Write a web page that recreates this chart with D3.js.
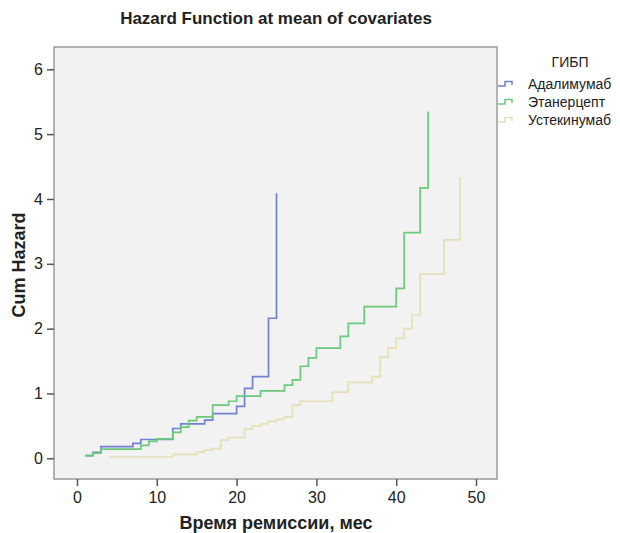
<!DOCTYPE html>
<html>
<head>
<meta charset="utf-8">
<script src="https://cdn.jsdelivr.net/npm/d3@7"></script>
<style>
  body { margin: 0; background: #fff; }
  text { font-family: "Liberation Sans", Arial, sans-serif; fill: #222; }
</style>
</head>
<body>
<svg id="chart" width="620" height="533"></svg>
<script>
// group names (legend)
var groups = ["Адалимумаб", "Этанерцепт", "Устекинумаб"];
var colors = ["#6f82d2", "#6cc97c", "#e4e0b6"];

// time of each step (months) and cumulative hazard after it
var adaTime = [1, 2, 3, 7, 8, 12, 13, 16, 17, 20, 21, 22, 24, 25];
var adaHaz  = [0.04, 0.09, 0.18, 0.23, 0.29, 0.46, 0.53, 0.59, 0.69, 0.80, 1.08, 1.26, 2.16, 4.09];

var etaTime = [1, 2, 3, 8, 9, 10, 12, 13, 14, 15, 17, 19, 20, 23, 26, 27, 28, 29, 30, 33, 34, 36, 40, 41, 43, 44];
var etaHaz  = [0.04, 0.08, 0.14, 0.20, 0.26, 0.30, 0.40, 0.48, 0.58, 0.64, 0.82, 0.88, 0.96, 1.04, 1.13, 1.21, 1.42, 1.55, 1.70, 1.88, 2.08, 2.34, 2.62, 3.48, 4.17, 5.35];

var ustTime = [4, 12, 15, 16, 17, 18, 19, 21, 22, 23, 24, 25, 26, 27, 28, 32, 34, 37, 38, 39, 40, 41, 42, 43, 46, 48];
var ustHaz  = [0.02, 0.06, 0.10, 0.13, 0.15, 0.28, 0.32, 0.45, 0.50, 0.53, 0.57, 0.60, 0.64, 0.82, 0.88, 1.02, 1.17, 1.26, 1.56, 1.70, 1.85, 2.00, 2.21, 2.84, 3.37, 4.34];

var xTicks = [0, 10, 20, 30, 40, 50];
var yTicks = [0, 1, 2, 3, 4, 5, 6];

var series = [
  {name: groups[0], t: adaTime, h: adaHaz},
  {name: groups[1], t: etaTime, h: etaHaz},
  {name: groups[2], t: ustTime, h: ustHaz}
];

var svg = d3.select("#chart");

var box = {left: 54, top: 47, right: 497, bottom: 479};

var x = d3.scaleLinear().domain([0, 50]).range([77, 476]);
var y = d3.scaleLinear().domain([0, 6]).range([458.3, 69.3]);

// plot background
svg.append("rect")
  .attr("x", box.left).attr("y", box.top)
  .attr("width", box.right - box.left).attr("height", box.bottom - box.top)
  .attr("fill", "#f2f2f2")
  .attr("stroke", "#9a9a9a")
  .attr("stroke-width", 1.5);

// axes
var xAxis = svg.append("g")
  .attr("transform", "translate(0," + box.bottom + ")")
  .call(d3.axisBottom(x).tickValues(xTicks).tickFormat(d3.format("d")).tickSize(7).tickPadding(6));
var yAxis = svg.append("g")
  .attr("transform", "translate(" + box.left + ",0)")
  .call(d3.axisLeft(y).tickValues(yTicks).tickFormat(d3.format("d")).tickSize(7).tickPadding(4));

[xAxis, yAxis].forEach(function(a){
  a.select(".domain").remove();
  a.selectAll("line").attr("stroke", "#555").attr("stroke-width", 1.5);
  a.selectAll("text").attr("font-size", 16).attr("fill", "#333")
    .style("font-family", "Liberation Sans, Arial, sans-serif");
});

// step curves
var line = d3.line()
  .x(function(d){ return x(d[0]); })
  .y(function(d){ return y(d[1]); })
  .curve(d3.curveStepAfter);

svg.append("g").selectAll("path")
  .data(series)
  .enter()
  .append("path")
  .attr("d", function(s){ return line(s.t.map(function(t, i){ return [t, s.h[i]]; })); })
  .attr("fill", "none")
  .attr("stroke", function(d, i){ return colors[i]; })
  .attr("stroke-width", 1.7);

// titles
svg.append("text")
  .attr("x", 276).attr("y", 24)
  .attr("text-anchor", "middle")
  .attr("font-size", 17).attr("font-weight", "bold")
  .text("Hazard Function at mean of covariates");

svg.append("text")
  .attr("x", 276).attr("y", 529)
  .attr("text-anchor", "middle")
  .attr("font-size", 18).attr("font-weight", "bold")
  .text("Время ремиссии, мес");

svg.append("text")
  .attr("transform", "translate(25,265) rotate(-90)")
  .attr("text-anchor", "middle")
  .attr("font-size", 18).attr("font-weight", "bold")
  .text("Cum Hazard");

// legend
var legend = svg.append("g");
legend.append("text")
  .attr("x", 570).attr("y", 67)
  .attr("text-anchor", "middle")
  .attr("font-size", 14)
  .text("ГИБП");

var item = legend.selectAll(".item")
  .data(groups)
  .enter()
  .append("g")
  .attr("transform", function(d, i){ return "translate(0," + (84 + i * 18) + ")"; });

item.append("path")
  .attr("d", "M498,2H505V-2.5H512V1")
  .attr("fill", "none")
  .attr("stroke", function(d, i){ return colors[i]; })
  .attr("stroke-width", 1.5);

item.append("text")
  .attr("x", 528).attr("y", 5)
  .attr("font-size", 14)
  .text(function(d){ return d; });
</script>
</body>
</html>
